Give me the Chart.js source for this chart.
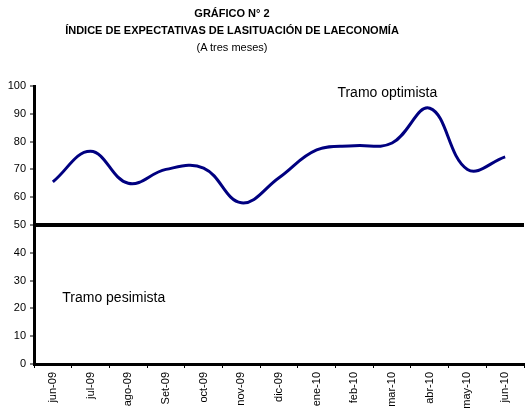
<!DOCTYPE html>
<html>
<head>
<meta charset="utf-8">
<script src="https://cdn.jsdelivr.net/npm/chart.js@4"></script>
<style>
  html, body { margin: 0; padding: 0; background: #fff; }
  #wrap { position: relative; width: 529px; height: 417px; }
  #titles {
    position: absolute; left: 0; top: 5px; width: 464px;
    text-align: center; color: #000;
    font-family: "Liberation Sans Narrow", "Liberation Sans", Arial, sans-serif;
    font-size: 11px; line-height: 17px;
  }
  #titles b { font-weight: bold; }
</style>
</head>
<body>
<div id="wrap">
  <canvas id="chart" width="529" height="417"></canvas>
  <div id="titles">
    <b>GRÁFICO N° 2</b><br>
    <b>ÍNDICE DE EXPECTATIVAS DE LASITUACIÓN DE LAECONOMÍA</b><br>
    (A tres meses)
  </div>
</div>
<script>
// data
const months = ['jun-09', 'jul-09', 'ago-09', 'Set-09', 'oct-09', 'nov-09', 'dic-09',
                'ene-10', 'feb-10', 'mar-10', 'abr-10', 'may-10', 'jun-10'];
const indexValues = [65.5, 76.5, 65, 70, 70.5, 58, 67, 77, 78.5, 79.5, 92, 70, 74.5];
const yTicks = [0, 10, 20, 30, 40, 50, 60, 70, 80, 90, 100];
const threshold = 50;

// labels placed by category index / value
const notes = [
  { text: 'Tramo optimista', at: 7.55, value: 97.3 },
  { text: 'Tramo pesimista', at: 0.25, value: 23.8 }
];

const notesPlugin = {
  id: 'notes',
  afterDatasetsDraw(chart) {
    const { ctx, scales: { x, y } } = chart;
    ctx.save();
    ctx.font = '14px "Liberation Sans Narrow", "Liberation Sans", Arial, sans-serif';
    ctx.fillStyle = '#000';
    ctx.textBaseline = 'middle';
    notes.forEach(n => {
      ctx.fillText(n.text, x.getPixelForValue(n.at), y.getPixelForValue(n.value));
    });
    ctx.restore();
  }
};

new Chart(document.getElementById('chart'), {
  type: 'line',
  data: {
    labels: months,
    datasets: [{
      data: indexValues,
      borderColor: '#000080',
      borderWidth: 3,
      tension: 0.4,
      pointRadius: 0,
      fill: false
    }]
  },
  options: {
    responsive: false,
    animation: false,
    layout: { padding: { top: 86, right: 5, left: 0, bottom: 0 } },
    plugins: { legend: { display: false }, tooltip: { enabled: false } },
    scales: {
      x: {
        offset: true,
        grid: { offset: true, drawOnChartArea: false, tickLength: 4, tickColor: '#000' },
        border: { color: '#000', width: 3 },
        ticks: {
          minRotation: 90, maxRotation: 90, padding: 4, color: '#000',
          font: { family: '"Liberation Sans", Arial, sans-serif', size: 11 }
        },
        afterFit(scale) { scale.height = 53; }
      },
      y: {
        min: 0, max: 100,
        afterBuildTicks(scale) { scale.ticks = yTicks.map(v => ({ value: v })); },
        grid: {
          color: c => (c.tick && c.tick.value === threshold ? '#000' : 'rgba(0,0,0,0)'),
          lineWidth: c => (c.tick && c.tick.value === threshold ? 4 : 0),
          tickLength: 4, tickColor: '#000', tickWidth: 1
        },
        border: { color: '#000', width: 3 },
        ticks: {
          padding: 4, color: '#000',
          font: { family: '"Liberation Sans Narrow", "Liberation Sans", Arial, sans-serif', size: 11 }
        },
        afterFit(scale) { scale.width = 34; }
      }
    }
  },
  plugins: [notesPlugin]
});
</script>
</body>
</html>
